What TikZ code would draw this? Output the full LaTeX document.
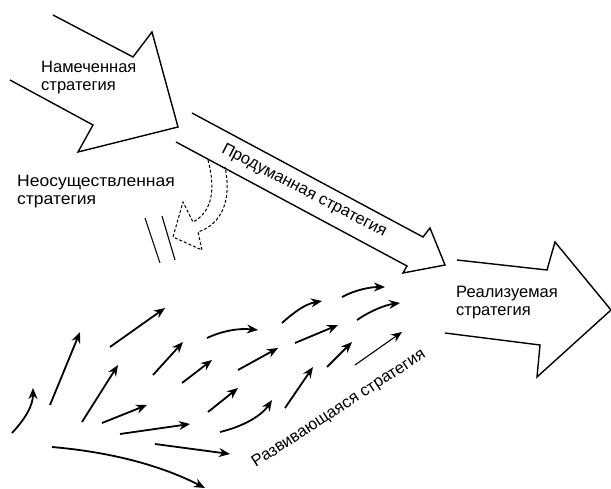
\documentclass[tikz,border=0pt]{standalone}
\usepackage{fontspec}
\setmainfont{Liberation Sans}
\usetikzlibrary{arrows.meta}
\begin{document}
\begin{tikzpicture}[x=1pt,y=-1pt,
  outline/.style={line width=1.4pt,line join=miter},
  dsh/.style={line width=1pt,dash pattern=on 3pt off 2pt},
  sm/.style={line width=1.8pt,-{Stealth[length=11pt,width=9pt]}},
  thin sm/.style={line width=1.1pt,-{Stealth[length=11pt,width=9pt]}},
  lbl/.style={font=\fontsize{16.5}{18}\selectfont,align=left,inner sep=0pt}]
\useasboundingbox (0,0) rectangle (611,489);
% Intended strategy arrow
\draw[outline] (53,15) -- (133,57) -- (152,32) -- (178,127) -- (78,152) -- (93,125) -- (10,80);
\node[lbl,anchor=north west] (intended) at (41,61) {Намеченная\\стратегия};
% Deliberate strategy arrow
\draw[outline] (192,113) -- (423,237) -- (430,228) -- (445,265) -- (403,273) -- (407,266) -- (176,142);
\node[lbl,rotate=-27.5] (deliberate) at (304,191) {Продуманная стратегия};
% Unrealized strategy
\node[lbl,anchor=north west,xscale=1.06] (unreal) at (17,175) {Неосуществленная\\стратегия};
\draw[dsh] (208,160) .. controls (216,190) and (212,212) .. (193,222) -- (183,202) -- (173,237) -- (202,250) -- (198,232) .. controls (222,224) and (232,200) .. (225,167);
\draw[line width=1.1pt] (145,218) -- (160,263);
\draw[line width=1.1pt] (162,216) -- (175,260);
% Realized strategy arrow
\draw[outline] (457,260) -- (547,270) -- (555,242) -- (611,310) -- (537,377) -- (540,345) -- (445,333);
\node[lbl,anchor=north west] (realized) at (456,286) {Реализуемая\\стратегия};
% Emergent strategy small arrows
\draw[sm] (12,433) .. controls (26,418) and (33,405) .. (33,388);
\draw[sm] (50,405) -- (80,332);
\draw[sm] (110,347) -- (165,308);
\draw[sm] (82,422) -- (118,365);
\draw[sm] (153,375) -- (183,342);
\draw[sm] (207,338) .. controls (222,331) and (238,328) .. (258,330);
\draw[sm] (182,383) -- (212,360);
\draw[sm] (238,370) -- (278,348);
\draw[sm] (102,423) -- (147,405);
\draw[sm] (120,434) -- (190,424);
\draw[sm] (208,412) -- (238,388);
\draw[sm] (220,432) .. controls (245,426) and (262,415) .. (272,400);
\draw[sm] (155,444) -- (230,454);
\draw[sm] (52,447) .. controls (110,452) and (160,465) .. (205,488);
\draw[sm] (282,323) .. controls (293,313) and (305,304) .. (322,301);
\draw[sm] (342,297) .. controls (355,290) and (370,287) .. (385,287);
\draw[sm] (295,343) -- (338,325);
\draw[sm] (357,320) .. controls (370,311) and (385,305) .. (400,303);
\draw[sm] (285,408) -- (313,367);
\draw[sm] (327,367) -- (352,342);
\draw[thin sm] (355,365) -- (402,332);
\node[lbl,rotate=33] (emergent) at (339,409) {Развивающаяся стратегия};
\end{tikzpicture}
\end{document}
